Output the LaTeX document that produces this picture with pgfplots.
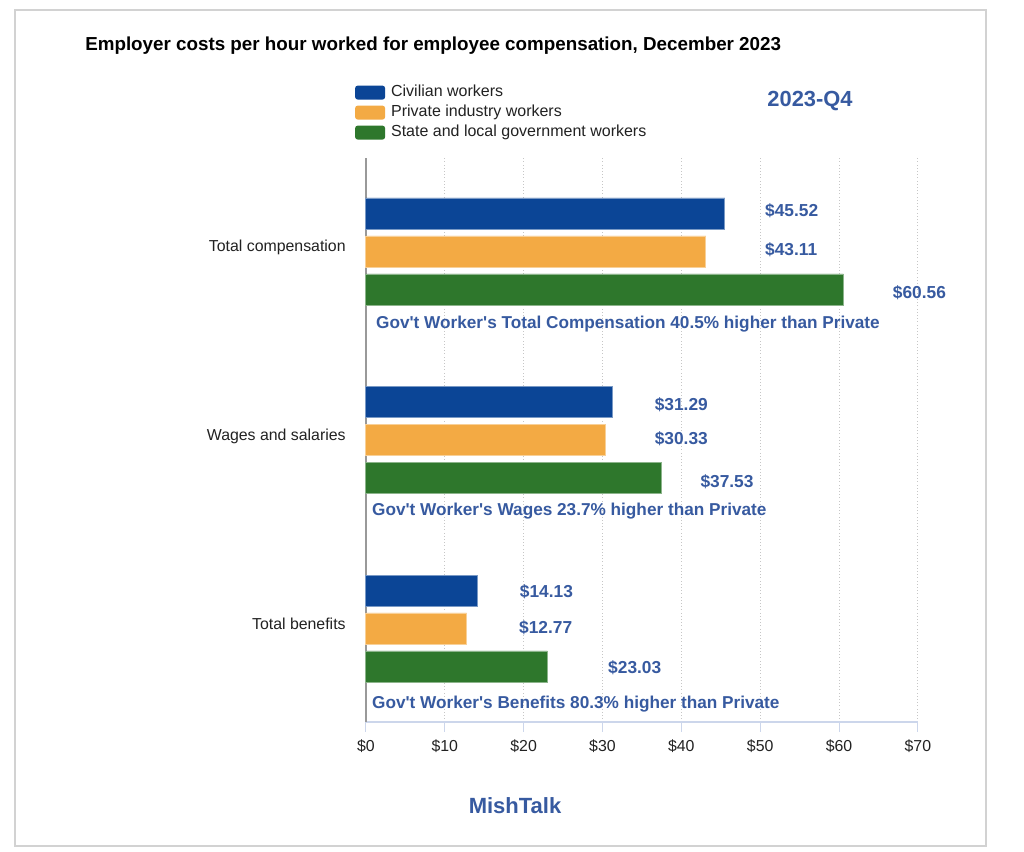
\documentclass[border=0pt]{standalone}
\usepackage{pgfplots}
\pgfplotsset{compat=1.18}
\usepackage{fontspec}
\setmainfont{Liberation Sans}
\definecolor{civ}{RGB}{11,69,150}
\definecolor{priv}{RGB}{243,170,68}
\definecolor{gov}{RGB}{46,119,44}
\definecolor{lab}{RGB}{55,90,160}
\definecolor{txt}{RGB}{34,34,34}
\definecolor{tickc}{RGB}{204,214,235}
\newcommand{\sq}{\textquotesingle}
\tikzset{
  vlab/.style={anchor=west, inner sep=0pt, font=\fontsize{13pt}{15pt}\selectfont\bfseries, text=lab},
  note/.style={anchor=west, inner sep=0pt, font=\fontsize{12.9pt}{15pt}\selectfont\bfseries, text=lab},
}
\begin{document}
\begin{tikzpicture}[x=0.75pt,y=0.75pt]
\path[fill=white] (0,0) rectangle (1024,852);
\draw[gray!35, line width=1.1pt] (15,6) rectangle (986,842);
\node[anchor=west, font=\fontsize{14.1pt}{16pt}\selectfont\bfseries, text=black, inner sep=0pt] at (85,806) {Employer costs per hour worked for employee compensation, December 2023};
\node[font=\fontsize{16.4pt}{19pt}\selectfont\bfseries, text=lab, inner sep=0pt] at (810,751) {2023-Q4};
\node[font=\fontsize{16.5pt}{19pt}\selectfont\bfseries, text=lab, inner sep=0pt] at (515,46) {MishTalk};
\begin{axis}[
  at={(464,130)}, anchor=south west,
  scale only axis, width=414pt, height=423pt,
  xmin=0, xmax=70, ymin=130, ymax=694,
  xbar, bar shift=0pt, bar width=31,
  axis x line*=bottom, axis y line*=left,
  x axis line style={draw=tickc, line width=1pt, -},
  y axis line style={draw=gray!80, line width=1.5pt, -},
  xtick={0,10,...,70},
  xticklabels={\$0,\$10,\$20,\$30,\$40,\$50,\$60,\$70},
  ytick={605,416,228},
  yticklabels={Total compensation,Wages and salaries,Total benefits},
  xmajorgrids, grid style={gray!45, dotted, line width=0.75pt},
  tick align=outside, major tick length=7.5pt,
  xtick style={draw=tickc, line width=0.75pt},
  ytick style={draw=none},
  /pgf/number format/assume math mode=true,
  tick label style={font=\fontsize{11.9pt}{14pt}\selectfont, text=txt},
  yticklabel style={anchor=east, inner sep=0pt, xshift=-7.5pt},
  xticklabel style={inner sep=0pt, yshift=-5.5pt},
  clip=false,
  legend style={at={(axis description cs:-0.02,1.130)}, anchor=north west, draw=none, fill=none,
    font=\fontsize{12pt}{14pt}\selectfont, text=txt, row sep=3.5pt, inner sep=0pt,
    nodes={inner sep=0pt, text height=9pt, text depth=2.5pt}, cells={anchor=west}},
  legend image code/.code={\fill[#1, draw=none, rounded corners=2pt] (0pt,-5.25pt) rectangle (22.5pt,5.25pt); \path[draw=none, fill=none] (0pt,0pt) rectangle (27pt,0.1pt);},
]
\addplot[fill=civ, draw=civ!55!white, line width=0.6pt] coordinates {(45.52,638.5) (31.29,450) (14.13,261)};
\addlegendentry{Civilian workers}
\addplot[fill=priv, draw=priv!55!white, line width=0.6pt] coordinates {(43.11,600.5) (30.33,412) (12.77,223.5)};
\addlegendentry{Private industry workers}
\addplot[fill=gov, draw=gov!55!white, line width=0.6pt] coordinates {(60.56,562.5) (37.53,374) (23.03,185.5)};
\addlegendentry{State and local government workers}
\node[vlab] at (axis cs:50.6,641) {\$45.52};
\node[vlab] at (axis cs:50.6,602) {\$43.11};
\node[vlab] at (axis cs:66.8,559) {\$60.56};
\node[vlab] at (axis cs:36.6,447) {\$31.29};
\node[vlab] at (axis cs:36.6,413) {\$30.33};
\node[vlab] at (axis cs:42.4,370) {\$37.53};
\node[vlab] at (axis cs:19.5,260) {\$14.13};
\node[vlab] at (axis cs:19.4,224) {\$12.77};
\node[vlab] at (axis cs:30.7,184) {\$23.03};
\node[note] at (axis cs:1.27,528) {Gov\sq t Worker\sq s Total Compensation 40.5\% higher than Private};
\node[note] at (axis cs:0.76,341) {Gov\sq t Worker\sq s Wages 23.7\% higher than Private};
\node[note] at (axis cs:0.76,148) {Gov\sq t Worker\sq s Benefits 80.3\% higher than Private};
\end{axis}
\end{tikzpicture}
\end{document}
